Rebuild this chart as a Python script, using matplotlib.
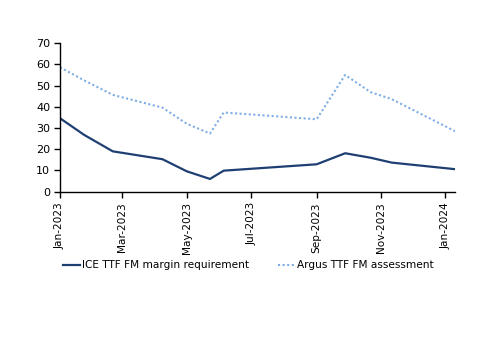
import matplotlib
matplotlib.use("Agg")
import matplotlib.pyplot as plt
import matplotlib.dates as mdates
import pandas as pd

dates = ["2023-01-01", "2023-01-24", "2023-02-20", "2023-04-08", "2023-05-01",
         "2023-05-23", "2023-06-05", "2023-09-01", "2023-09-28", "2023-10-22",
         "2023-11-11", "2024-01-10"]
ice_margin = [34.6, 26.7, 19.0, 15.3, 9.6, 6.0, 9.9, 12.9, 18.1, 16.0, 13.7, 10.6]
argus_assess = [58.6, 52.4, 45.6, 39.6, 32.0, 27.4, 37.3, 34.1, 55.0, 46.9, 43.6, 28.5]
labels = ["ICE TTF FM margin requirement", "Argus TTF FM assessment"]

x = pd.to_datetime(dates)

plt.rcParams['font.family'] = ['DejaVu Sans']
fig = plt.figure(figsize=(5.0, 3.53), dpi=100)
ax = fig.add_axes([0.12, 0.457, 0.79, 0.421])

ax.plot(x, ice_margin, color="#1F3F73", lw=1.6, label=labels[0])
ax.plot(x, argus_assess, color="#7FAEE6", lw=1.5, ls=(0, (1, 1.2)), label=labels[1])

ax.set_ylim(0, 70)
ax.set_yticks(range(0, 71, 10))
ax.set_xlim(pd.Timestamp("2023-01-01"), pd.Timestamp("2024-01-10"))
ticks = pd.to_datetime(["2023-01-01", "2023-03-01", "2023-05-01", "2023-07-01",
                        "2023-09-01", "2023-11-01", "2024-01-01"])
ax.set_xticks(ticks)
ax.xaxis.set_major_formatter(mdates.DateFormatter("%b-%Y"))
for lab in ax.get_xticklabels():
    lab.set_rotation(90)

for s in ["top", "right"]:
    ax.spines[s].set_visible(False)
for s in ["left", "bottom"]:
    ax.spines[s].set_linewidth(1.0)
    ax.spines[s].set_color("#000000")
ax.tick_params(axis="both", direction="out", length=4, width=1, labelsize=7.6, colors="#000000")
ax.tick_params(axis="y", labelsize=8, pad=3)

leg = fig.legend(loc="center", bbox_to_anchor=(0.497, 0.248), ncol=2, frameon=False,
                 fontsize=7.6, handlelength=1.6, handletextpad=0.2, columnspacing=2.8)

fig.savefig("out.png", dpi=100)
